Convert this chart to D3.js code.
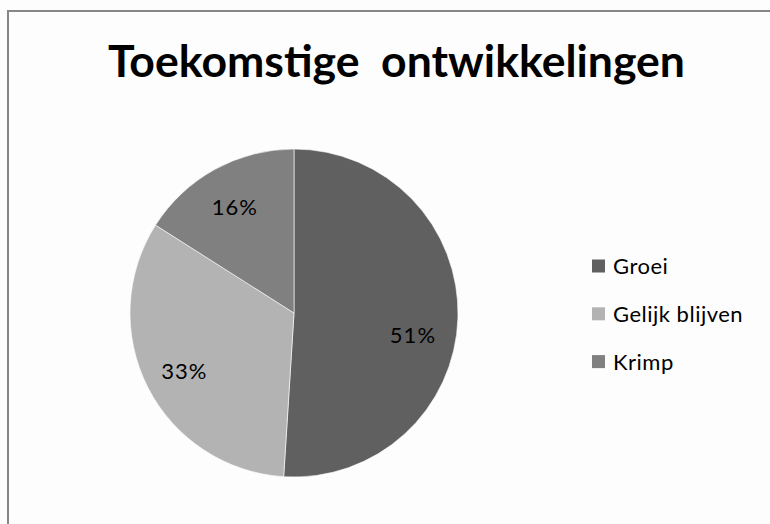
<!DOCTYPE html>
<html>
<head>
<meta charset="utf-8">
<script src="https://cdn.jsdelivr.net/npm/d3@7"></script>
<style>
  body { margin: 0; background: #fff; }
  svg { display: block; }
  text { font-family: Lato, "Open Sans", sans-serif; fill: #000; }
</style>
</head>
<body>
<svg id="chart" width="770" height="524"></svg>
<script>
'use strict';

var title = 'Toekomstige  ontwikkelingen';
var categories = ['Groei', 'Gelijk blijven', 'Krimp'];
var values = [51, 33, 16];
var colors = ['#606060', '#b3b3b3', '#808080'];

var width = 770, height = 524;
var svg = d3.select('#chart');

// background + chart frame (only top/left edges visible)
svg.append('rect')
  .attr('width', width).attr('height', height)
  .attr('fill', '#fdfdfd');
svg.append('rect')
  .attr('x', 8).attr('y', 11)
  .attr('width', width + 10).attr('height', height + 10)
  .attr('fill', 'none')
  .attr('stroke', '#878787')
  .attr('stroke-width', 2);

svg.append('text')
  .attr('x', 108).attr('y', 77)
  .attr('textLength', 577)
  .attr('lengthAdjust', 'spacingAndGlyphs')
  .style('font-size', '43px')
  .style('font-weight', 'bold')
  .style('white-space', 'pre')
  .text(title);

var cx = 294, cy = 313, radius = 164;

var data = categories.map(function (c, i) {
  return { name: c, value: values[i] };
});

var color = d3.scaleOrdinal().domain(categories).range(colors);

var pie = d3.pie()
  .sort(null)
  .value(function (d) { return d.value; });

var arc = d3.arc().innerRadius(0).outerRadius(radius);
var labelArc = d3.arc().innerRadius(radius * 0.75).outerRadius(radius * 0.75);

var pieG = svg.append('g')
  .attr('transform', 'translate(' + cx + ',' + cy + ')');

var slices = pieG.selectAll('g.slice')
  .data(pie(data))
  .enter().append('g')
  .attr('class', 'slice');

slices.append('path')
  .attr('d', arc)
  .attr('fill', function (d) { return color(d.data.name); })
  .attr('stroke', '#fdfdfd')
  .attr('stroke-width', 0.6);

// the big slice's label sits a bit lower in the original
slices.append('text')
  .attr('transform', function (d, i) {
    var c = labelArc.centroid(d);
    var nudge = i === 0 ? 18 : 2;
    return 'translate(' + (c[0] - (i === 0 ? 4 : 0)) + ',' + (c[1] + nudge) + ')';
  })
  .attr('text-anchor', 'middle')
  .attr('dy', '0.35em')
  .style('font-size', '22px')
  .style('letter-spacing', '1px')
  .text(function (d) { return d.data.value + '%'; });

// legend
var legend = svg.append('g')
  .attr('transform', 'translate(592,266)');

var items = legend.selectAll('g.item')
  .data(categories)
  .enter().append('g')
  .attr('class', 'item')
  .attr('transform', function (d, i) { return 'translate(0,' + (i * 47.8) + ')'; });

items.append('rect')
  .attr('x', 0).attr('y', -6.5)
  .attr('width', 13).attr('height', 13)
  .attr('fill', function (d) { return color(d); });

items.append('text')
  .attr('x', 21).attr('y', 0)
  .attr('dy', '0.36em')
  .style('font-size', '22px')
  .style('letter-spacing', '0.5px')
  .text(function (d) { return d; });
</script>
</body>
</html>
